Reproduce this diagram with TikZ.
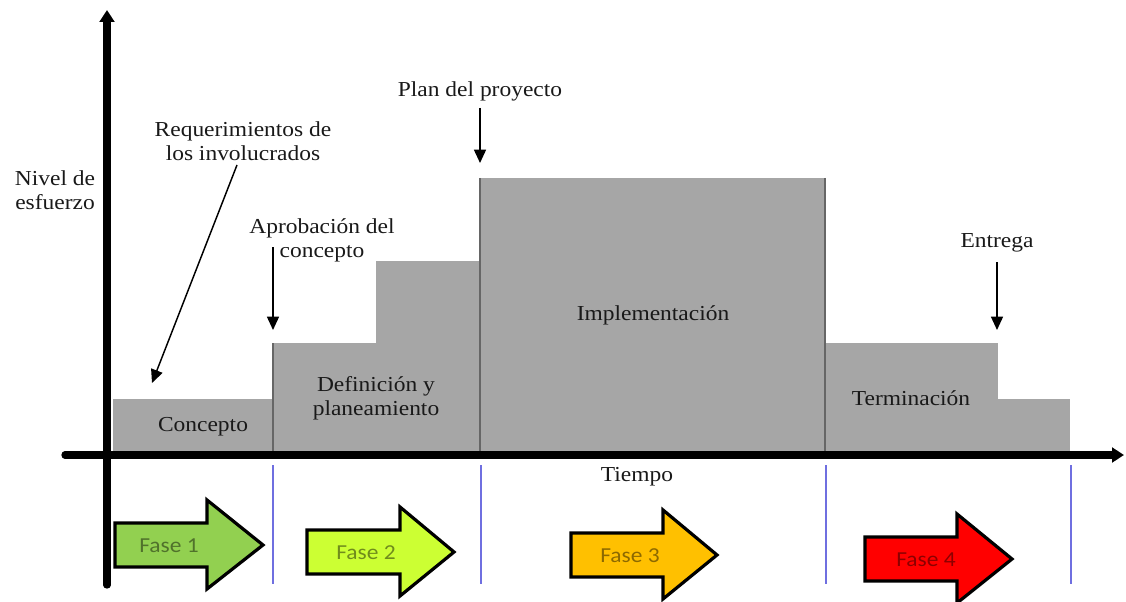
\documentclass[tikz,border=0pt]{standalone}
\usepackage{fontspec}
\setmainfont{Liberation Serif}[FakeStretch=1.1]
\newfontfamily\fasefont{Carlito}[FakeStretch=1.1]
\usetikzlibrary{arrows.meta}
\definecolor{blockgray}{HTML}{A6A6A6}
\definecolor{fA}{HTML}{92D050}
\definecolor{fB}{HTML}{CCFF33}
\definecolor{fC}{HTML}{FFC000}
\definecolor{fD}{HTML}{FF0000}
\definecolor{tickblue}{HTML}{6F6FE0}
\begin{document}
\begin{tikzpicture}[x=0.75pt,y=-0.75pt,
  lbl/.style={font=\fontsize{16}{18}\selectfont, text=black!90, align=center, inner sep=0pt},
  blk/.style={fill=blockgray, draw=none},
  divl/.style={draw=black!60, line width=1.2pt},
  callout/.style={draw=black, line width=1.1pt, -{Triangle[length=10pt,width=9pt]}},
  axis/.style={line width=5.5pt, line cap=round, -{Triangle[length=9pt,width=11pt]}},
  tickl/.style={draw=tickblue, line width=1pt},
  phase/.style={draw=black, line width=2.4pt, line join=miter},
  fasetxt/.style={font=\fasefont\fontsize{16}{18}\selectfont, text=black, text opacity=0.45, inner sep=0pt}
]
\useasboundingbox (0,0) rectangle (1126,602);
\clip (0,0) rectangle (1126,602);

% effort blocks
\fill[blk] (113,399) rectangle (273,452);
\fill[blk] (273,343) rectangle (480,452);
\fill[blk] (376,261) rectangle (480,343);
\fill[blk] (480,178) rectangle (825,452);
\fill[blk] (825,343) rectangle (998,452);
\fill[blk] (998,399) rectangle (1070,452);
\draw[divl] (273,343) -- (273,452);
\draw[divl] (480,178) -- (480,452);
\draw[divl] (825,178) -- (825,452);

% phase separators
\foreach \x in {273,481,826,1071} \draw[tickl] (\x,465) -- (\x,584);

% axes
\coordinate (yb) at (107,585);
\coordinate (yt) at (107,10);
\coordinate (xl) at (65,455);
\coordinate (xr) at (1124,455);
\draw[axis] (yb) -- (yt);
\draw[axis] (xl) -- (xr);

% labels
\node[lbl] (nivel) at (55,190) {Nivel de\\esfuerzo};
\node[lbl] (req) at (243,141) {Requerimientos de\\los involucrados};
\node[lbl] (aprob) at (322,240) {Aprobación del\\concepto};
\node[lbl] (plan) at (480,91) {Plan del proyecto};
\node[lbl] (entrega) at (997,243) {Entrega};
\node[lbl] (concepto) at (203,427) {Concepto};
\node[lbl] (defin) at (376,398) {Definición y\\planeamiento};
\node[lbl] (impl) at (653,315) {Implementación};
\node[lbl] (term) at (911,398) {Terminación};
\node[lbl] (tiempo) at (637,477) {Tiempo};

% callout arrows
\coordinate (reqS) at (237,165);
\coordinate (reqE) at (152,383);
\coordinate (aprS) at (273,247);
\coordinate (aprE) at (273,330);
\coordinate (planS) at (480,108);
\coordinate (planE) at (480,163);
\coordinate (entS) at (997,262);
\coordinate (entE) at (997,330);
\draw[callout] (reqS) -- (reqE);
\draw[callout] (aprS) -- (aprE);
\draw[callout] (planS) -- (planE);
\draw[callout] (entS) -- (entE);

% phase arrows
\foreach \xl/\xb/\xt/\yc/\col/\n/\tx in {115/207/263/545/fA/1/169, 307/400/454/552/fB/2/366, 571/663/717/555/fC/3/630, 865/957/1012/559/fD/4/926}{
  \draw[phase, fill=\col] (\xl,\yc-22) -- (\xb,\yc-22) -- (\xb,\yc-45) -- (\xt,\yc)
     -- (\xb,\yc+44) -- (\xb,\yc+22) -- (\xl,\yc+22) -- cycle;
  \node[fasetxt] (fase\n) at (\tx,\yc+1) {Fase \n};
}
\end{tikzpicture}
\end{document}
